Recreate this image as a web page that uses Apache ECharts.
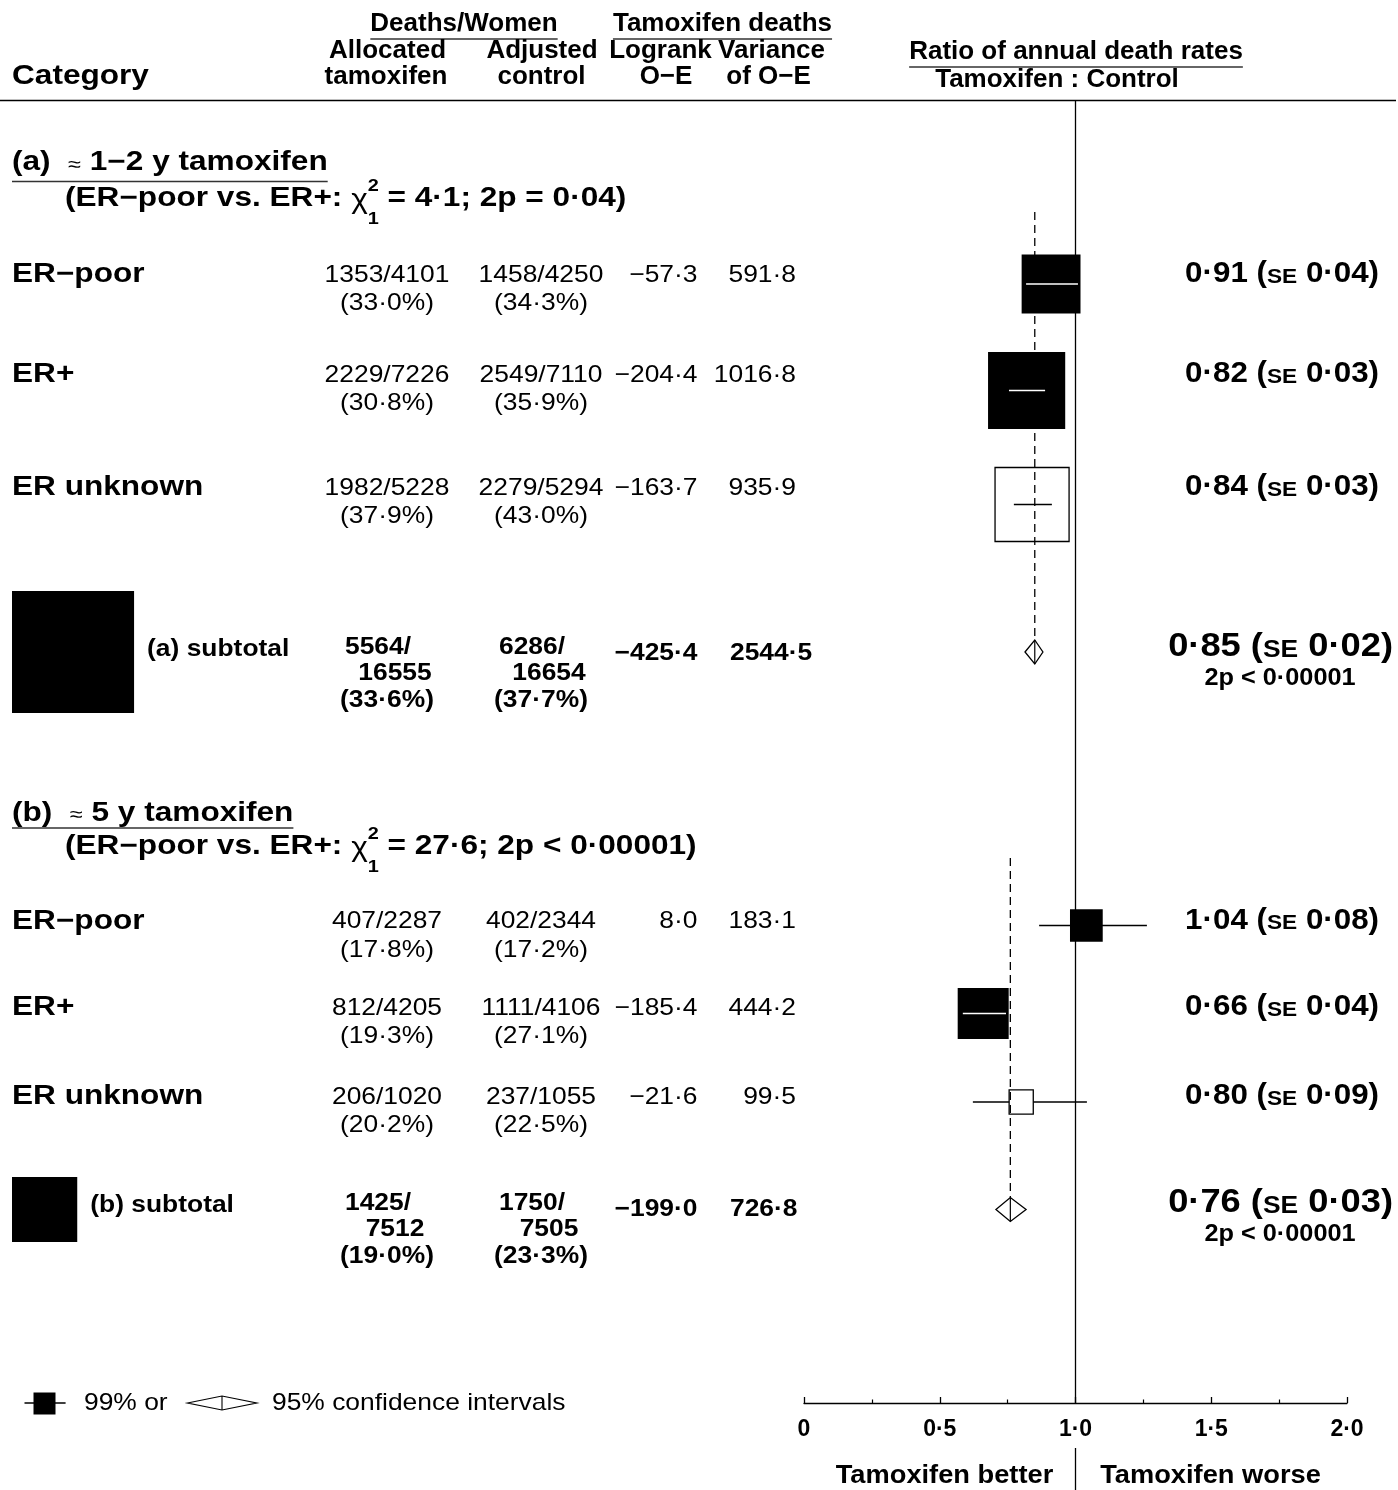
<!DOCTYPE html>
<html><head><meta charset="utf-8">
<script src="https://cdn.jsdelivr.net/npm/echarts@6/dist/echarts.min.js"></script>
<style>html,body{margin:0;padding:0;background:#fff}#c{width:1398px;height:1490px}</style>
</head><body><div id="c"></div>
<script>
// ================= DATA =================
const sectionIds = ['a', 'b'];
const sectionTitles = ['1−2 y tamoxifen', '5 y tamoxifen'];
const sectionChi2 = ['4·1', '27·6'];
const sectionP = ['= 0·04', '< 0·00001'];

const rowLabels = ['ER−poor', 'ER+', 'ER unknown'];

// section (a)
const a_tamDeaths = [1353, 2229, 1982];
const a_tamWomen  = [4101, 7226, 5228];
const a_tamPct    = [33.0, 30.8, 37.9];
const a_ctlDeaths = [1458, 2549, 2279];
const a_ctlWomen  = [4250, 7110, 5294];
const a_ctlPct    = [34.3, 35.9, 43.0];
const a_oe        = [-57.3, -204.4, -163.7];
const a_var       = [591.8, 1016.8, 935.9];
const a_ratio     = [0.91, 0.82, 0.84];
const a_se        = [0.04, 0.03, 0.03];
const a_ciLo      = [0.818, 0.755, 0.773];
const a_ciHi      = [1.009, 0.888, 0.913];

// section (b)
const b_tamDeaths = [407, 812, 206];
const b_tamWomen  = [2287, 4205, 1020];
const b_tamPct    = [17.8, 19.3, 20.2];
const b_ctlDeaths = [402, 1111, 237];
const b_ctlWomen  = [2344, 4106, 1055];
const b_ctlPct    = [17.2, 27.1, 22.5];
const b_oe        = [8.0, -185.4, -21.6];
const b_var       = [183.1, 444.2, 99.5];
const b_ratio     = [1.04, 0.66, 0.80];
const b_se        = [0.08, 0.04, 0.09];
const b_ciLo      = [0.866, 0.585, 0.622];
const b_ciHi      = [1.263, 0.744, 1.042];

// subtotals [a, b]
const sub_tamDeaths = [5564, 1425];
const sub_tamWomen  = [16555, 7512];
const sub_tamPct    = [33.6, 19.0];
const sub_ctlDeaths = [6286, 1750];
const sub_ctlWomen  = [16654, 7505];
const sub_ctlPct    = [37.7, 23.3];
const sub_oe        = [-425.4, -199.0];
const sub_var       = [2544.5, 726.8];
const sub_ratio     = [0.85, 0.76];
const sub_se        = [0.02, 0.03];
const sub_ciLo      = [0.814, 0.707];
const sub_ciHi      = [0.880, 0.818];
const sub_p         = ['2p < 0·00001', '2p < 0·00001'];

const xTickValues = [0, 0.5, 1, 1.5, 2];

// ================= LAYOUT =================
const FAM = "'Liberation Sans', Arial, Helvetica, sans-serif";
const GRID_TOP = 100, AXIS_Y = 1403;
const BOX_K = 2.42;                 // px per sqrt(variance)
const rowTextY = [[275, 375, 488], [921.5, 1008, 1097]];
const rowMarkY = [[284, 390.5, 504.5], [925.5, 1013.5, 1102]];
const subTextY = [648, 1204];
const subMarkY = [652, 1209.5];
const headY = [163, 813.5];
const subtitleY = [199, 847];
const underlineY = [181.5, 828];
const dashTop = [212, 858];
const COL1 = 387, COL2 = 541, COL3R = 697.5, COL4R = 796, COL4SUBL = 730;
const RIGHT_R = 1379, RIGHT_SUB_R = 1393, P_CX = 1280;

const secData = [
  {td: a_tamDeaths, tw: a_tamWomen, tp: a_tamPct, cd: a_ctlDeaths, cw: a_ctlWomen, cp: a_ctlPct,
   oe: a_oe, v: a_var, r: a_ratio, se: a_se, lo: a_ciLo, hi: a_ciHi},
  {td: b_tamDeaths, tw: b_tamWomen, tp: b_tamPct, cd: b_ctlDeaths, cw: b_ctlWomen, cp: b_ctlPct,
   oe: b_oe, v: b_var, r: b_ratio, se: b_se, lo: b_ciLo, hi: b_ciHi}
];

function fmt(v, d) { return (v < 0 ? '−' : '') + Math.abs(v).toFixed(d).replace('.', '·'); }

// ================= CHART =================
const chart = echarts.init(document.getElementById('c'), null, {renderer: 'canvas'});

const forestRows = [];
secData.forEach((s, k) => {
  rowLabels.forEach((lab, i) => {
    forestRows.push([s.r[i], s.lo[i], s.hi[i], rowMarkY[k][i], s.v[i], /unknown/.test(lab) ? 1 : 0]);
  });
});
const diamondRows = sectionIds.map((id, k) => [sub_ratio[k], sub_ciLo[k], sub_ciHi[k], subMarkY[k]]);
const dashRows = sectionIds.map((id, k) => [sub_ratio[k], dashTop[k], subMarkY[k] - 12]);

function boxGeom(api) {
  const c = api.coord([api.value(0), api.value(3)]);
  const s = BOX_K * Math.sqrt(api.value(4));
  const a = api.coord([api.value(1), api.value(3)]);
  const b = api.coord([api.value(2), api.value(3)]);
  return {c, s, a, b, open: api.value(5) === 1};
}

const option = {
  animation: false,
  backgroundColor: '#fff',
  grid: {left: 804, right: 51, top: GRID_TOP, bottom: 1490 - AXIS_Y, containLabel: false},
  xAxis: {
    type: 'value', min: 0, max: 2, interval: 0.5, position: 'bottom',
    axisLine: {show: true, onZero: false, lineStyle: {color: '#000', width: 1.3}},
    axisTick: {show: true, inside: true, length: 6, lineStyle: {color: '#000', width: 1.3}},
    minorTick: {show: true, splitNumber: 2, length: 3.5, lineStyle: {color: '#000', width: 1.2}},
    splitLine: {show: false}, minorSplitLine: {show: false},
    axisLabel: {
      margin: 15, color: '#000', fontFamily: FAM, fontWeight: 'bold', fontSize: 23,
      formatter: v => xTickValues.indexOf(v) < 0 ? '' : (v === 0 ? '0' : v.toFixed(1).replace('.', '·'))
    }
  },
  yAxis: {type: 'value', min: GRID_TOP, max: AXIS_Y, inverse: true, show: false},
  series: [
    { // reference line at 1.0
      type: 'line', data: [], z: 1, silent: true,
      markLine: {silent: true, symbol: ['none', 'none'], label: {show: false},
        lineStyle: {color: '#000', width: 1.3, type: 'solid'}, data: [{xAxis: 1}]}
    },
    { // CI lines behind boxes
      type: 'custom', z: 2, data: forestRows, encode: {x: [0, 1, 2], y: 3},
      renderItem: (p, api) => {
        const g = boxGeom(api);
        return {type: 'line', shape: {x1: g.a[0], y1: g.a[1], x2: g.b[0], y2: g.b[1]},
          style: {stroke: '#000', lineWidth: 1.3}};
      }
    },
    { // boxes
      type: 'custom', z: 3, data: forestRows, encode: {x: [0, 1, 2], y: 3},
      renderItem: (p, api) => {
        const g = boxGeom(api);
        return {type: 'rect', shape: {x: g.c[0] - g.s / 2, y: g.c[1] - g.s / 2, width: g.s, height: g.s},
          style: {fill: g.open ? '#fff' : '#000', stroke: '#000', lineWidth: g.open ? 1.3 : 0}};
      }
    },
    { // dashed overall lines
      type: 'custom', z: 4, data: dashRows, encode: {x: 0, y: [1, 2]},
      renderItem: (p, api) => {
        const t = api.coord([api.value(0), api.value(1)]);
        const b = api.coord([api.value(0), api.value(2)]);
        return {type: 'line', shape: {x1: t[0], y1: t[1], x2: b[0], y2: b[1]},
          style: {stroke: '#000', lineWidth: 1.3, lineDash: [8, 5]}};
      }
    },
    { // CI inside boxes
      type: 'custom', z: 5, data: forestRows, encode: {x: [0, 1, 2], y: 3},
      renderItem: (p, api) => {
        const g = boxGeom(api);
        if (g.a[0] >= g.c[0] - g.s / 2 && g.b[0] <= g.c[0] + g.s / 2) {
          return {type: 'line', shape: {x1: g.a[0], y1: g.a[1], x2: g.b[0], y2: g.b[1]},
            style: {stroke: g.open ? '#000' : '#fff', lineWidth: 1.3}};
        }
        return {type: 'group', children: []};
      }
    },
    { // subtotal diamonds
      type: 'custom', z: 6, data: diamondRows, encode: {x: [0, 1, 2], y: 3},
      renderItem: (p, api) => {
        const c = api.coord([api.value(0), api.value(3)]);
        const l = api.coord([api.value(1), api.value(3)]);
        const r = api.coord([api.value(2), api.value(3)]);
        const h = 12;
        return {type: 'group', children: [
          {type: 'polygon', shape: {points: [[l[0], c[1]], [c[0], c[1] - h], [r[0], c[1]], [c[0], c[1] + h]]},
            style: {fill: '#fff', stroke: '#000', lineWidth: 1.3}},
          {type: 'line', shape: {x1: c[0], y1: c[1] - h, x2: c[0], y2: c[1] + h},
            style: {stroke: '#000', lineWidth: 1.2}}
        ]};
      }
    }
  ]
};
chart.setOption(option);

// ================= TEXT & ANNOTATIONS =================
const ctx = document.createElement('canvas').getContext('2d');
function fnt(size, bold) { return (bold ? 'bold ' : '') + size + 'px ' + FAM; }
function measure(t, f) { ctx.font = f; return ctx.measureText(t).width; }
function mkText(t, f, x, dy) {
  return {type: 'text', x: x, y: dy || 0,
    style: {text: t, font: f, fill: '#000', textAlign: 'left', align: 'left',
      textVerticalAlign: 'middle', verticalAlign: 'middle'}};
}
// parts: {t,size,bold,dy} or {stack:[top,bottom],size,bold,dyTop,dyBot}
function textGroup(parts, x, y, align, sx) {
  sx = sx || 1;
  const children = [];
  let cx = 0;
  parts.forEach(p => {
    const f = fnt(p.size, p.bold);
    if (p.stack) {
      const w = Math.max(measure(p.stack[0], f), measure(p.stack[1], f));
      children.push(mkText(p.stack[0], f, cx, p.dyTop));
      children.push(mkText(p.stack[1], f, cx, p.dyBot));
      cx += w;
    } else {
      children.push(mkText(p.t, f, cx, p.dy));
      cx += measure(p.t, f);
    }
  });
  const off = align === 'right' ? -cx : (align === 'center' ? -cx / 2 : 0);
  children.forEach(c => { c.x += off; });
  const w = cx * sx;
  const left = align === 'right' ? x - w : (align === 'center' ? x - w / 2 : x);
  return {el: {type: 'group', x: x, y: y, scaleX: sx, scaleY: 1, children: children}, left: left, right: left + w};
}
function T(t, size, bold, x, y, align, sx) { return textGroup([{t: t, size: size, bold: bold}], x, y, align, sx); }
function hline(x1, x2, y, w, col) {
  return {type: 'line', shape: {x1: x1, y1: y, x2: x2, y2: y}, style: {stroke: col || '#000', lineWidth: w || 1.3}};
}
function vline(x, y1, y2, w) {
  return {type: 'line', shape: {x1: x, y1: y1, x2: x, y2: y2}, style: {stroke: '#000', lineWidth: w || 1.3}};
}
const py = v => chart.convertToPixel({yAxisIndex: 0}, v);
const px = v => chart.convertToPixel({xAxisIndex: 0}, v);

const G = [];
const add = o => { G.push(o.el); return o; };
const SXL = 1.17;   // stretch for large bold labels
const SXD = 1.1;    // stretch for data text

// header
G.push(hline(0, 1396, GRID_TOP + 0.5, 1.3));
add(T('Category', 27, true, 12, 76.5, 'left', SXL));
let h = add(T('Deaths/Women', 26, true, 464, 24, 'center', 1));
G.push(hline(h.left, h.right, 39, 1.5, '#333'));
h = add(T('Tamoxifen deaths', 26, true, 722.5, 24, 'center', 1));
G.push(hline(h.left, h.right, 39, 1.5, '#333'));
add(T('Allocated', 26, true, 387.5, 51, 'center', 1));
add(T('tamoxifen', 26, true, 386, 77, 'center', 1));
add(T('Adjusted', 26, true, 542, 51, 'center', 1));
add(T('control', 26, true, 541.5, 77, 'center', 1));
add(T('Logrank', 26, true, 660.5, 51, 'center', 1));
add(T('O−E', 26, true, 666, 77, 'center', 1));
add(T('Variance', 26, true, 771.5, 51, 'center', 1));
add(T('of O−E', 26, true, 768.5, 77, 'center', 1));
h = add(T('Ratio of annual death rates', 26, true, 1076, 52, 'center', 1));
G.push(hline(h.left, h.right, 67, 1.5, '#333'));
add(T('Tamoxifen : Control', 26, true, 1057, 79.5, 'center', 1));

sectionIds.forEach((id, k) => {
  const s = secData[k];
  // section heading
  const hd = add(textGroup([
    {t: '(' + id + ')  ', size: 27, bold: true},
    {t: '≈', size: 20, bold: false, dy: 2},
    {t: ' ' + sectionTitles[k], size: 27, bold: true}
  ], 12, py(headY[k]), 'left', SXL));
  G.push(hline(hd.left, hd.right, py(underlineY[k]), 1.5, '#333'));
  add(textGroup([
    {t: '(ER−poor vs. ER+: ', size: 27, bold: true},
    {t: 'χ', size: 27, bold: false, dy: 2},
    {stack: ['2', '1'], size: 17, bold: true, dyTop: -13, dyBot: 20.5},
    {t: ' = ' + sectionChi2[k] + '; 2p ' + sectionP[k] + ')', size: 27, bold: true}
  ], 65, py(subtitleY[k]), 'left', SXL));

  // rows
  rowLabels.forEach((lab, i) => {
    const y = py(rowTextY[k][i]);
    add(T(lab, 27, true, 12, y, 'left', SXL));
    add(T(s.td[i] + '/' + s.tw[i], 24, false, COL1, y, 'center', SXD));
    add(T('(' + fmt(s.tp[i], 1) + '%)', 24, false, COL1, y + 28.5, 'center', SXD));
    add(T(s.cd[i] + '/' + s.cw[i], 24, false, COL2, y, 'center', SXD));
    add(T('(' + fmt(s.cp[i], 1) + '%)', 24, false, COL2, y + 28.5, 'center', SXD));
    add(T(fmt(s.oe[i], 1), 24, false, COL3R, y, 'right', SXD));
    add(T(fmt(s.v[i], 1), 24, false, COL4R, y, 'right', SXD));
    add(textGroup([
      {t: fmt(s.r[i], 2) + ' (', size: 29, bold: true},
      {t: 'SE', size: 21, bold: true, dy: 0.3465 * 8},
      {t: ' ' + fmt(s.se[i], 2) + ')', size: 29, bold: true}
    ], RIGHT_R, y - 1, 'right', 1.08));
  });

  // subtotal
  const ys = py(subTextY[k]);
  const bs = BOX_K * Math.sqrt(sub_var[k]);
  const cy = py(subMarkY[k]);
  G.push({type: 'rect', shape: {x: 12, y: cy - bs / 2, width: bs, height: bs}, style: {fill: '#000'}});
  add(T('(' + id + ') subtotal', 24, true, 12 + bs + 13, ys + 1, 'left', SXD));
  add(T(sub_tamDeaths[k] + '/', 24, true, COL1 - 9, ys - 1, 'center', SXD));
  add(T(String(sub_tamWomen[k]), 24, true, COL1 + 8, ys + 25, 'center', SXD));
  add(T('(' + fmt(sub_tamPct[k], 1) + '%)', 24, true, COL1, ys + 52, 'center', SXD));
  add(T(sub_ctlDeaths[k] + '/', 24, true, COL2 - 9, ys - 1, 'center', SXD));
  add(T(String(sub_ctlWomen[k]), 24, true, COL2 + 8, ys + 25, 'center', SXD));
  add(T('(' + fmt(sub_ctlPct[k], 1) + '%)', 24, true, COL2, ys + 52, 'center', SXD));
  add(T(fmt(sub_oe[k], 1), 24, true, COL3R, ys + 5, 'right', SXD));
  add(T(fmt(sub_var[k], 1), 24, true, COL4SUBL, ys + 5, 'left', SXD));
  add(textGroup([
    {t: fmt(sub_ratio[k], 2) + ' (', size: 33, bold: true},
    {t: 'SE', size: 24, bold: true, dy: 0.3465 * 9},
    {t: ' ' + fmt(sub_se[k], 2) + ')', size: 33, bold: true}
  ], RIGHT_SUB_R, ys - 1, 'right', 1.1));
  add(T(sub_p[k], 23, true, P_CX, ys + 31, 'center', 1.1));
});

// legend
const LY = AXIS_Y;
G.push(hline(24.5, 65.6, LY, 1.3));
G.push({type: 'rect', shape: {x: 33.5, y: LY - 10.5, width: 22, height: 22}, style: {fill: '#000'}});
add(T('99% or', 24, false, 84, LY, 'left', SXD));
G.push({type: 'polygon', shape: {points: [[187.5, LY], [222, LY - 7], [256.7, LY], [222, LY + 7]]},
  style: {fill: '#fff', stroke: '#000', lineWidth: 1.2}});
G.push(vline(222, LY - 7, LY + 7, 1.1));
add(T('95% confidence intervals', 24, false, 272, LY, 'left', SXD));

// bottom captions
const x1 = px(1);
add(T('Tamoxifen better', 25, true, 944.5, 1476, 'center', 1.09));
add(T('Tamoxifen worse', 25, true, 1210.5, 1476, 'center', 1.09));
G.push(vline(x1, 1448, 1490, 1.3));

chart.setOption({graphic: {elements: G}});
</script>
</body></html>
